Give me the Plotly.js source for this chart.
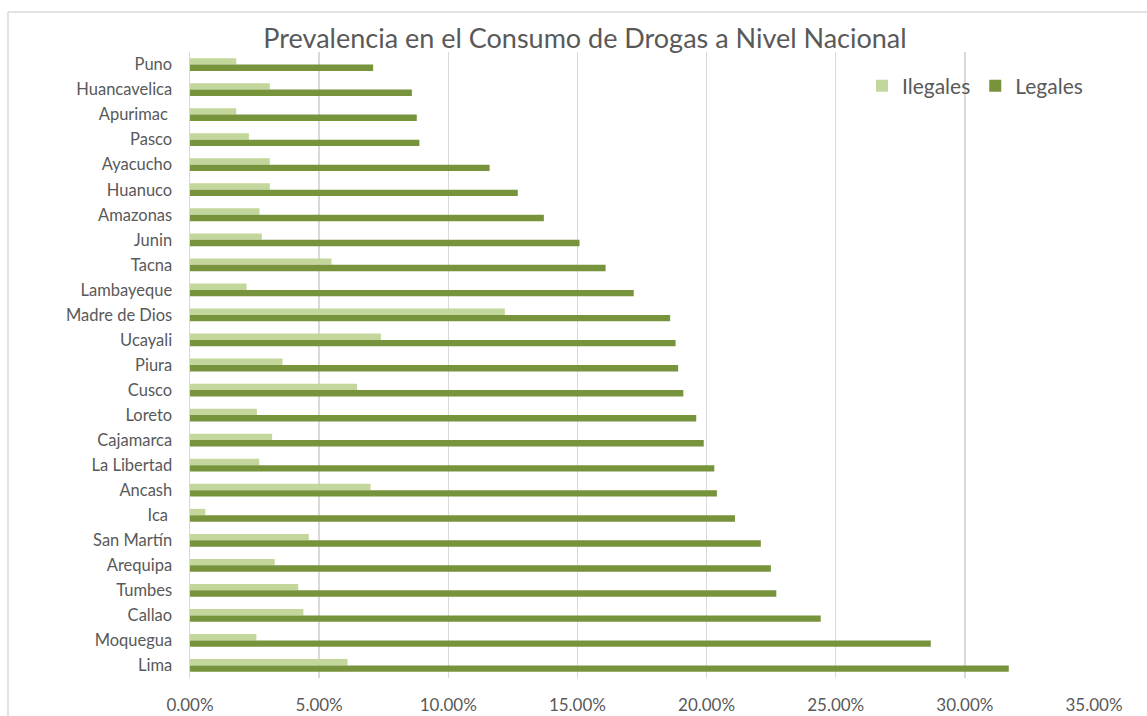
<!DOCTYPE html>
<html>
<head>
<meta charset="utf-8">
<script src="https://cdn.plot.ly/plotly-3.0.1.min.js"></script>
<style>
html,body{margin:0;padding:0;background:#fff;}
#chart{width:1147px;height:716px;}
</style>
</head>
<body>
<div id="chart"></div>
<script>
// Categories listed top to bottom as shown
const regiones = ["Puno","Huancavelica","Apurimac ","Pasco","Ayacucho","Huanuco","Amazonas","Junin","Tacna","Lambayeque","Madre de Dios","Ucayali","Piura","Cusco","Loreto","Cajamarca","La Libertad","Ancash","Ica ","San Martín","Arequipa","Tumbes","Callao","Moquegua","Lima"];
const ilegales = [0.0179,0.0309,0.0179,0.0228,0.0309,0.0309,0.0269,0.0278,0.0548,0.0219,0.1219,0.0739,0.0358,0.0647,0.0259,0.0318,0.0268,0.0699,0.0059,0.0460,0.0328,0.0419,0.0439,0.0257,0.0610];
const legales  = [0.0709,0.0859,0.0878,0.0888,0.1160,0.1269,0.1370,0.1508,0.1609,0.1718,0.1859,0.1880,0.1890,0.1910,0.1960,0.1989,0.2030,0.2040,0.2110,0.2210,0.2249,0.2270,0.2442,0.2868,0.3170];
const xTicks = [0,0.05,0.10,0.15,0.20,0.25,0.30,0.35];

const FONT = "Lato, 'Open Sans', sans-serif";
const GREY = "#595959";

const traces = [
  {type:"bar", orientation:"h", name:"Ilegales", y:regiones, x:ilegales,
   marker:{color:"#C3D69B", line:{width:0}}, hoverinfo:"x+y"},
  {type:"bar", orientation:"h", name:"Legales", y:regiones, x:legales,
   marker:{color:"#77933C", line:{width:0}}, hoverinfo:"x+y"}
];

const L = 190, R = 1094, T = 52, B = 678;
const px2x = p => (p - L)/(R - L);
const py2y = p => (B - p)/(B - T);

const layout = {
  width:1147, height:716,
  margin:{l:L, r:1147-R, t:T, b:716-B, pad:0},
  paper_bgcolor:"#fff", plot_bgcolor:"#fff",
  font:{family:FONT, color:GREY},
  barmode:"group", bargap:0.49, bargroupgap:0,
  title:{text:"Prevalencia en el Consumo de Drogas a Nivel Nacional",
         font:{family:FONT, size:27, color:GREY},
         x:585/1147, xanchor:"center", xref:"container",
         y:1-39/716, yanchor:"middle", yref:"container"},
  xaxis:{range:[0,0.35], tickvals:xTicks, tickformat:".2%",
         showgrid:true, gridcolor:"#D9D9D9", gridwidth:1.5,
         zeroline:false, showline:false, ticks:"",
         tickfont:{family:FONT, size:17, color:GREY}, ticklabelstandoff:15,
         fixedrange:true},
  yaxis:{autorange:"reversed", type:"category", showgrid:false, zeroline:false,
         showline:true, linecolor:"#D9D9D9", linewidth:1.5, ticks:"",
         tickfont:{family:FONT, size:16.5, color:GREY}, ticklabelstandoff:13,
         fixedrange:true},
  showlegend:true,
  legend:{orientation:"h", x:px2x(862), xanchor:"left", y:py2y(86), yanchor:"middle",
          font:{family:FONT, size:21, color:GREY}, bgcolor:"rgba(0,0,0,0)",
          traceorder:"normal", itemwidth:30},
  shapes:[
    {type:"line", xref:"paper", yref:"paper", x0:px2x(8), x1:px2x(8), y0:py2y(12), y1:py2y(720),
     line:{color:"#D9D9D9", width:1.5}},
    {type:"line", xref:"paper", yref:"paper", x0:px2x(8), x1:px2x(1150), y0:py2y(12), y1:py2y(12),
     line:{color:"#D9D9D9", width:1.5}}
  ]
};

Plotly.newPlot("chart", traces, layout, {displayModeBar:false, staticPlot:true});
</script>
</body>
</html>
